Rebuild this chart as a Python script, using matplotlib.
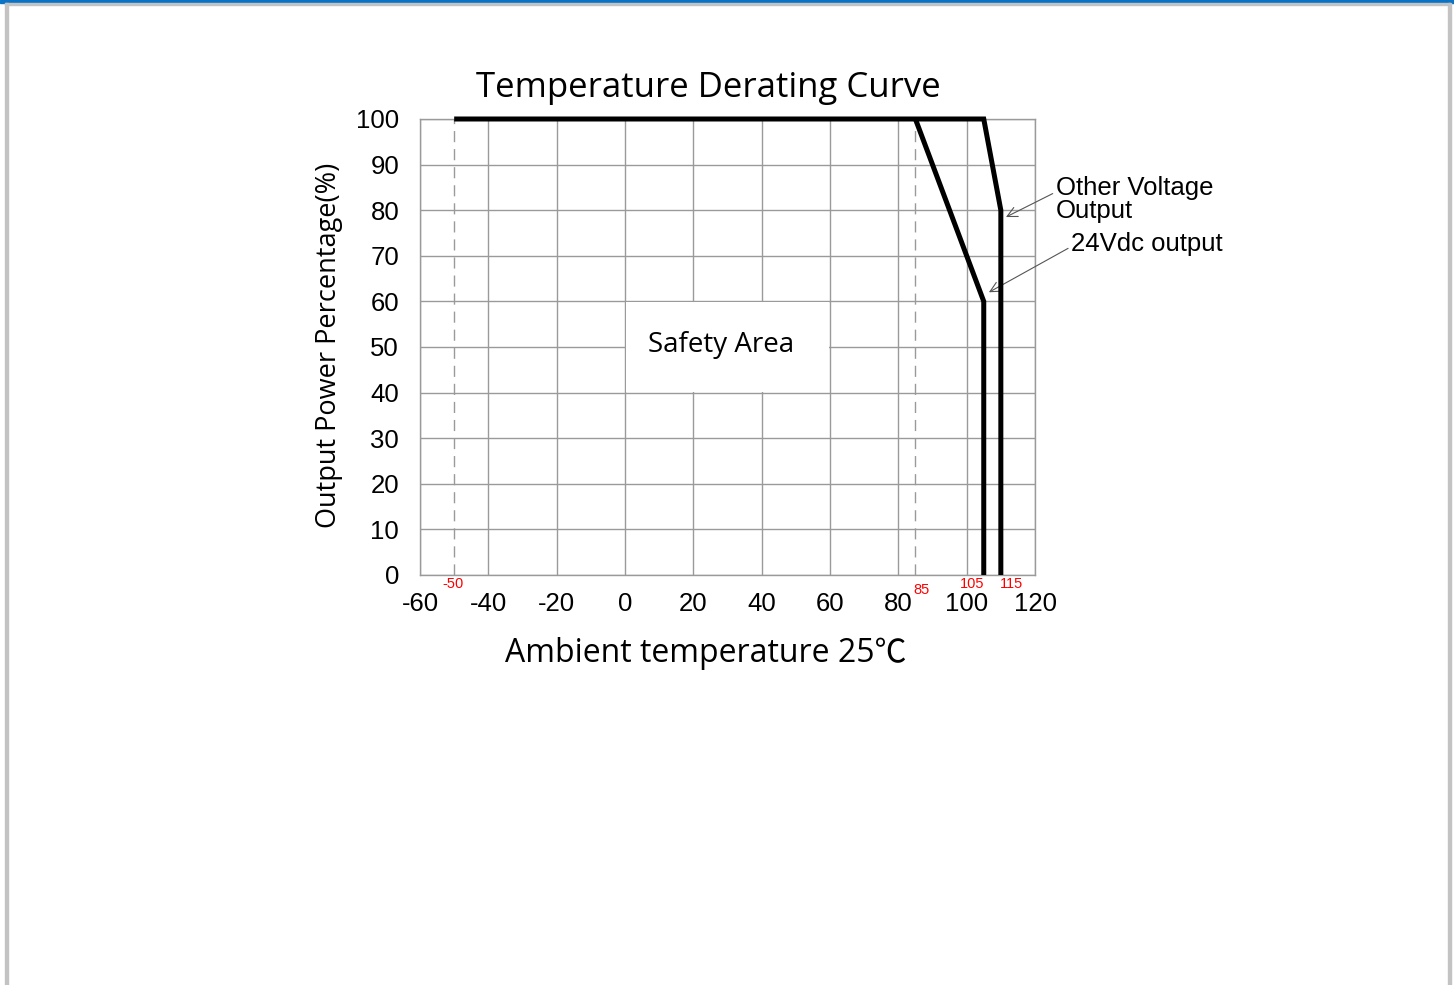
import matplotlib
matplotlib.use("Agg")
import matplotlib.pyplot as plt
from matplotlib.patches import Rectangle

plt.rcParams["axes.unicode_minus"] = False

# ---- data ----
x_ticks = [-60, -40, -20, 0, 20, 40, 60, 80, 100, 120]
y_ticks = [0, 10, 20, 30, 40, 50, 60, 70, 80, 90, 100]
other_x = [-50, 105, 110, 110]
other_y = [100, 100, 80, 0]
v24_x = [85, 105, 105]
v24_y = [100, 60, 0]
dashed_x = [-50, 85]
red_labels = ["-50", "85", "105", "115"]
red_label_x = [-50, 85, 105, 115]

W, H = 1454, 985
fig = plt.figure(figsize=(W / 100, H / 100), dpi=100)

# page frame
def px_rect(x0, y0, x1, y1, color):
    fig.patches.append(Rectangle((x0 / W, 1 - y1 / H), (x1 - x0) / W, (y1 - y0) / H,
                                 transform=fig.transFigure, color=color, zorder=0))
px_rect(0, 0, W, 3, "#0a73c6")
px_rect(5, 3, W - 4, 5, "#c3c3c3")
px_rect(5, 3, 7.5, H, "#c3c3c3")
px_rect(1448, 3, 1450.5, H, "#c3c3c3")

ax = fig.add_axes([420 / W, 1 - 575 / H, (1035 - 420) / W, (575 - 119) / H])
ax.set_xlim(-60, 120)
ax.set_ylim(0, 100)
ax.set_xticks(x_ticks)
ax.set_yticks(y_ticks)
ax.grid(True, color="#9a9a9a", lw=1.0)
ax.set_axisbelow(True)
for s in ax.spines.values():
    s.set_color("#9a9a9a")
    s.set_linewidth(1.0)
ax.tick_params(length=0, labelsize=18.5, pad=12.5)
ax.tick_params(axis="y", pad=15)
for lab in ax.get_xticklabels() + ax.get_yticklabels():
    lab.set_fontfamily("Liberation Sans")

# safety area box (leaves the 0 and 60 gridlines visible)
ax.add_patch(Rectangle((0.4, 40.2), 59.2, 19.6, facecolor="white", edgecolor="none", zorder=1.5))
ax.text(28, 50.5, "Safety Area", ha="center", va="center", fontsize=20,
        family="Open Sans", zorder=3)

for xv in dashed_x:
    ax.plot([xv, xv], [0, 100], color="#9a9a9a", lw=1.0, dashes=(8, 5), zorder=2)

ax.plot(other_x, other_y, color="black", lw=3.6, solid_joinstyle="miter",
        solid_capstyle="butt", zorder=4, clip_on=False)
ax.plot(v24_x, v24_y, color="black", lw=3.6, solid_joinstyle="miter",
        solid_capstyle="butt", zorder=4, clip_on=False)

# red labels: pixel offsets relative to their nominal position
red_offsets = [(-1, -9), (6, -15), (-12, -9), (-6, -9)]
for t, xv, (dx, dy) in zip(red_labels, red_label_x, red_offsets):
    ax.annotate(t, xy=(xv, 0), xytext=(dx * 0.72, dy * 0.72), textcoords="offset points",
                color="red", fontsize=10.5, ha="center", va="center",
                family="Liberation Sans", annotation_clip=False)

# annotations
ax.annotate("Other Voltage\nOutput", xy=(111.5, 78.5), xytext=(126, 82.3),
            fontsize=18.5, family="Liberation Sans", va="center", ha="left",
            linespacing=0.95, annotation_clip=False,
            arrowprops=dict(arrowstyle="->", color="#555555", lw=0.8,
                            shrinkA=0, shrinkB=0, mutation_scale=18,
                            relpos=(0, 0.66)))
ax.annotate("24Vdc output", xy=(106.5, 62), xytext=(130.5, 72.5),
            fontsize=18.5, family="Liberation Sans", va="center", ha="left",
            annotation_clip=False,
            arrowprops=dict(arrowstyle="->", color="#555555", lw=0.8,
                            shrinkA=0, shrinkB=0, mutation_scale=18,
                            relpos=(0, 0.4)))

fig.text(708 / W, 1 - 88 / H, "Temperature Derating Curve", ha="center", va="center",
         fontsize=25, family="Open Sans")
fig.text(706 / W, 1 - 654 / H, "Ambient temperature 25℃", ha="center", va="center",
         fontsize=23, family=["Open Sans", "Noto Sans CJK SC"])
fig.text(329 / W, 1 - 345 / H, "Output Power Percentage(%)", ha="center", va="center",
         rotation=90, fontsize=19.5, family="Open Sans")

fig.savefig("out.png", dpi=100)
